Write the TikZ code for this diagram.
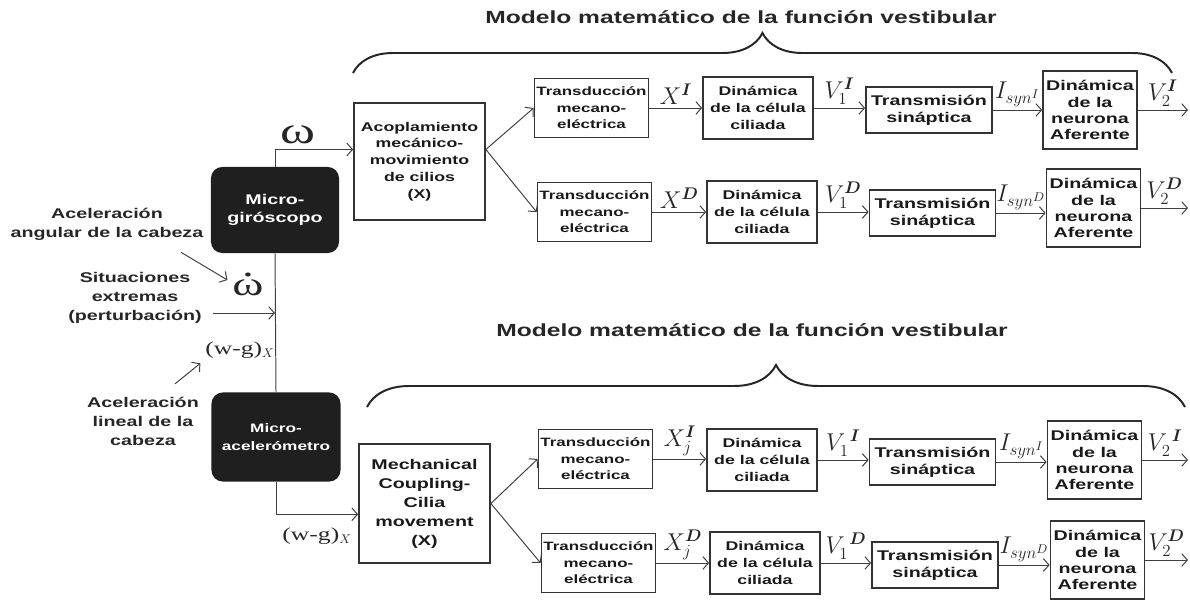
\documentclass[tikz,border=0pt]{standalone}
\usepackage{amsmath}
\usepackage{fontspec}
\setmainfont{Liberation Sans}[FakeStretch=1.4]
\newfontfamily\serif{Liberation Serif}[FakeStretch=1.4]
\usetikzlibrary{decorations.pathreplacing,arrows.meta}

\begin{document}
\begin{tikzpicture}[x=0.025cm,y=-0.025cm,
  box/.style={draw=black!80,line width=1.2pt,align=center,inner sep=0pt,text=black!90},
  tbox/.style={box,font=\bfseries\fontsize{8.6}{11.8}\selectfont,minimum width=2.85cm,minimum height=1.48cm},
  dbox/.style={box,font=\bfseries\fontsize{9}{12}\selectfont,minimum width=2.75cm,minimum height=1.55cm},
  sbox/.style={box,font=\bfseries\fontsize{10}{12}\selectfont,minimum width=3.15cm,minimum height=1.15cm},
  nbox/.style={box,font=\bfseries\fontsize{10}{11.5}\selectfont,minimum width=2.35cm,minimum height=1.95cm},
  sensor/.style={fill=black!88,rounded corners=8pt,align=center,text=white,inner sep=0pt},
  wire/.style={draw=black!75,line width=0.7pt,-{Straight Barb[length=4pt,width=9pt]}},
  sig/.style={font=\fontsize{18}{18}\selectfont,inner sep=2pt,text=black!85},
  lbl/.style={align=center,font=\bfseries\fontsize{10}{13.5}\selectfont,text=black!85},
  title/.style={font=\bfseries\fontsize{12.5}{15}\selectfont,text=black!85},
  curly/.style={decorate,decoration={brace,amplitude=#1},line width=1.4pt,draw=black!85}]
\useasboundingbox (0,0) rectangle (1190,600);

% titulos y llaves
\node[title] (ttlA) at (741,17) {Modelo matemático de la función vestibular};
\node[title] (ttlB) at (752,330) {Modelo matemático de la función vestibular};
\coordinate (brA1) at (353,73);
\coordinate (brA2) at (1172,73);
\coordinate (brB1) at (367,407);
\coordinate (brB2) at (1185,407);
\draw[curly=1cm] (brA1) -- (brA2);
\draw[curly=1.05cm] (brB1) -- (brB2);

% sensores
\node[sensor,font=\bfseries\fontsize{10}{13}\selectfont,minimum width=3.2cm,minimum height=2.15cm] (gyro) at (275,210) {Micro-\\giróscopo};
\node[sensor,font=\bfseries\fontsize{8.75}{13}\selectfont,minimum width=3.225cm,minimum height=2.225cm] (accel) at (276,437) {Micro-\\acelerómetro};

% entradas
\node[lbl] (ang) at (107,224) {Aceleración\\angular de la cabeza};
\node[lbl,inner xsep=8pt] (pert) at (135,298) {Situaciones\\extremas\\(perturbación)};
\node[lbl] (lin) at (143,421) {Aceleración\\lineal de la\\cabeza};
\node[font=\serif\fontsize{24}{24}\selectfont,text=black!85] (wdot) at (248,288) {\ooalign{ω\cr\hidewidth\raisebox{0.58em}{.}\hidewidth\cr}};
\node[font=\serif\fontsize{13}{13}\selectfont,text=black!85] (wg) at (240,350) {(w-g)$_X$};
\coordinate (pin) at (275,313);

% acoplamiento
\node[box,font=\bfseries\fontsize{9}{12}\selectfont,minimum width=3.275cm,minimum height=2.925cm] (acop) at (419.5,161.5) {Acoplamiento\\mecánico-\\movimiento\\de cilios\\(X)};
\node[box,font=\bfseries\fontsize{10}{13.5}\selectfont,minimum width=3.275cm,minimum height=2.975cm] (mech) at (424.5,503.5) {Mechanical\\Coupling-\\Cilia\\movement\\(X)};
\coordinate (acopin) at ([yshift=0.3cm]acop.west);
\coordinate (fork) at ([yshift=0.3cm]acop.east);
\coordinate (mechin) at ([yshift=-0.27cm]mech.west);
\coordinate (rim) at (1188,0);

% fila A
\node[tbox] (tA) at (591.5,108) {Transducción\\mecano-\\eléctrica};
\node[dbox] (dA) at (758,108) {Dinámica\\de la célula\\ciliada};
\node[sbox] (sA) at (929,110) {Transmisión\\sináptica};
\node[nbox] (nA) at (1090,110) {Dinámica\\de la\\neurona\\Aferente};
% fila B
\node[tbox] (tB) at (594.5,212) {Transducción\\mecano-\\eléctrica};
\node[dbox] (dB) at (762,212) {Dinámica\\de la célula\\ciliada};
\node[sbox] (sB) at (932.5,213) {Transmisión\\sináptica};
\node[nbox] (nB) at (1093.5,208) {Dinámica\\de la\\neurona\\Aferente};
% fila C
\node[tbox] (tC) at (595.5,459) {Transducción\\mecano-\\eléctrica};
\node[dbox] (dC) at (762,460) {Dinámica\\de la célula\\ciliada};
\node[sbox] (sC) at (932.5,462) {Transmisión\\sináptica};
\node[nbox] (nC) at (1094.5,460) {Dinámica\\de la\\neurona\\Aferente};
% fila D
\node[tbox] (tD) at (598.5,563) {Transducción\\mecano-\\eléctrica};
\node[dbox] (dD) at (765,563) {Dinámica\\de la célula\\ciliada};
\node[sbox] (sD) at (935,565) {Transmisión\\sináptica};
\node[nbox] (nD) at (1097.5,560) {Dinámica\\de la\\neurona\\Aferente};

% conexiones
\draw[wire] (gyro.north) |- (acopin) node[pos=0.65,above,inner sep=4pt,font=\serif\fontsize{27}{27}\selectfont,text=black!85] {ω};
\draw[draw=black!75,line width=0.7pt] (gyro.south) -- (accel.north);
\draw[wire] (accel.south) |- (mechin) node[pos=0.75,below,yshift=-0.2cm,font=\serif\fontsize{13}{13}\selectfont,text=black!85] {(w-g)$_X$};
\draw[wire] (pert.east |- pin) -- (pin);
\draw[wire] ([xshift=-0.68cm,yshift=-0.18cm]ang.south east) -- ([yshift=0.2cm]wdot.west);
\draw[wire] ([xshift=0.8cm,yshift=0.2cm]lin.north) -- (wg.south west);

\draw[wire] (fork) -- (tA.west);
\draw[wire] (fork) -- (tB.west);
\draw[wire] (mech.east) -- (tC.west);
\draw[wire] (mech.east) -- (tD.west);

\draw[wire] (tA.east) -- (tA.east -| dA.west) node[sig,midway,above] {$X^{\boldsymbol I}$};
\draw[wire] (dA.east) -- (dA.east -| sA.west) node[sig,midway,above] {$V_1^{\boldsymbol I}$};
\draw[wire] (sA.east) -- (sA.east -| nA.west) node[sig,midway,above] {$I_{syn^{I}}$};
\draw[wire] (nA.east) -- (nA.east -| rim) node[sig,midway,above] {$V_2^{\boldsymbol I}$};

\draw[wire] (tB.east) -- (tB.east -| dB.west) node[sig,midway,above] {$X^{\boldsymbol D}$};
\draw[wire] (dB.east) -- (dB.east -| sB.west) node[sig,midway,above] {$V_1^{\boldsymbol D}$};
\draw[wire] (sB.east) -- (sB.east -| nB.west) node[sig,midway,above] {$I_{syn^{D}}$};
\draw[wire] (nB.east) -- (nB.east -| rim) node[sig,midway,above] {$V_2^{\boldsymbol D}$};

\draw[wire] (tC.east) -- (tC.east -| dC.west) node[sig,midway,above] {$X_j^{\boldsymbol I}$};
\draw[wire] (dC.east) -- (dC.east -| sC.west) node[sig,midway,above] {$V_1^{\;\boldsymbol I}$};
\draw[wire] (sC.east) -- (sC.east -| nC.west) node[sig,midway,above] {$I_{syn^{I}}$};
\draw[wire] (nC.east) -- (nC.east -| rim) node[sig,midway,above] {$V_2^{\;\boldsymbol I}$};

\draw[wire] (tD.east) -- (tD.east -| dD.west) node[sig,midway,above] {$X_j^{\boldsymbol D}$};
\draw[wire] (dD.east) -- (dD.east -| sD.west) node[sig,midway,above] {$V_1^{\;\boldsymbol D}$};
\draw[wire] (sD.east) -- (sD.east -| nD.west) node[sig,midway,above] {$I_{syn^{D}}$};
\draw[wire] (nD.east) -- (nD.east -| rim) node[sig,midway,above] {$V_2^{\boldsymbol D}$};
\end{tikzpicture}
\end{document}
